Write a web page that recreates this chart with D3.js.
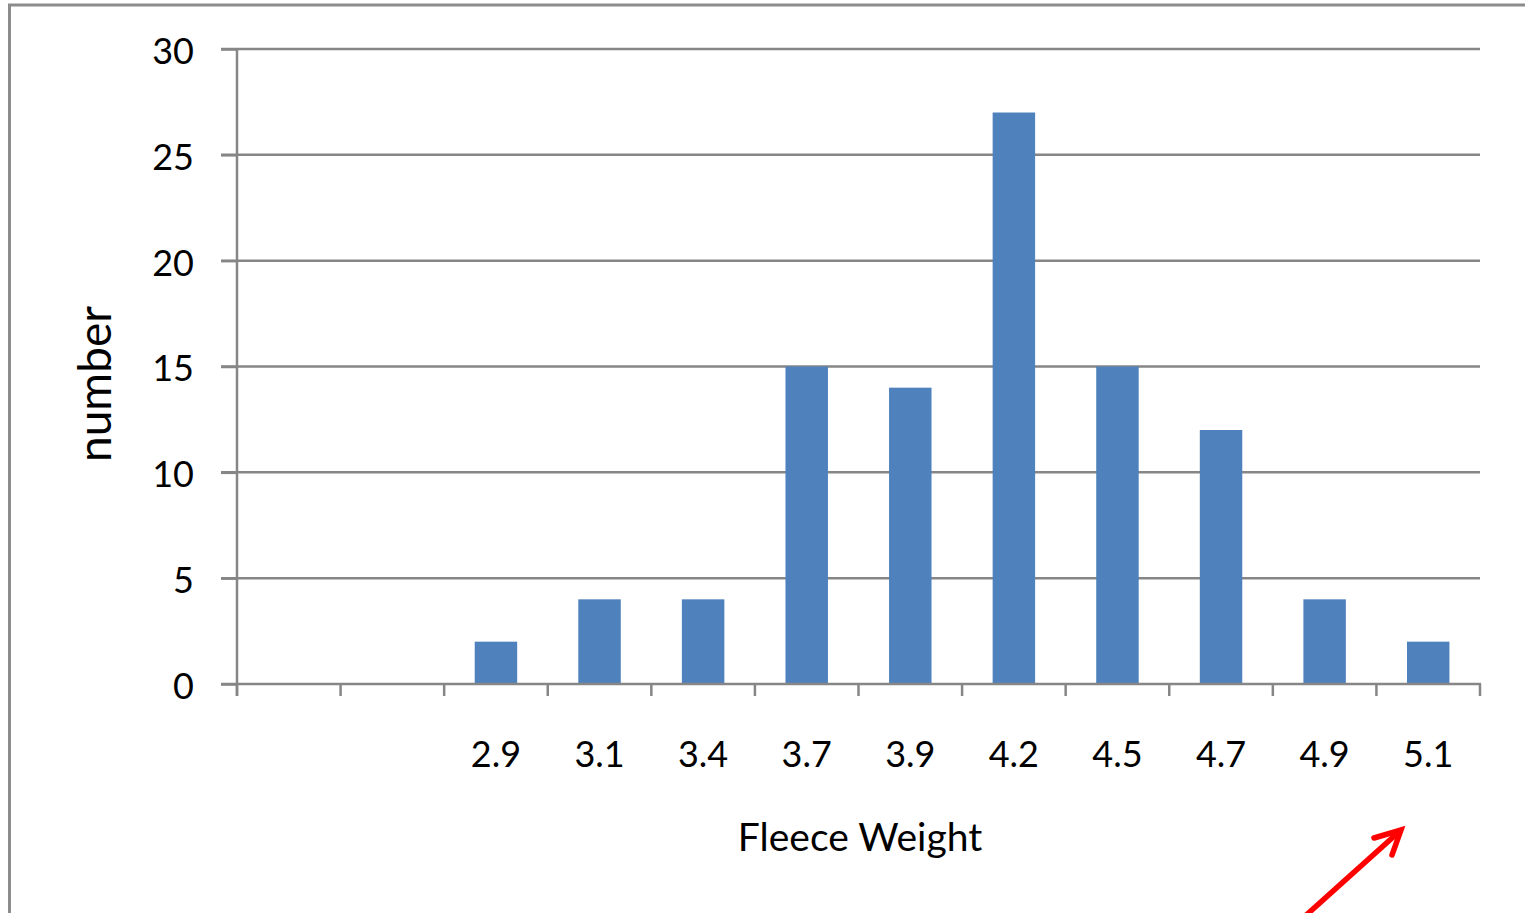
<!DOCTYPE html>
<html><head><meta charset="utf-8">
<script src="https://cdn.jsdelivr.net/npm/d3@7"></script>
<style>html,body{margin:0;padding:0;background:#fff;overflow:hidden}svg{display:block}</style>
</head><body>
<svg id="chart" width="1525" height="913"></svg>
<script>
const categories = ["", "", "2.9", "3.1", "3.4", "3.7", "3.9", "4.2", "4.5", "4.7", "4.9", "5.1"];
const counts = [0, 0, 2, 4, 4, 15, 14, 27, 15, 12, 4, 2];
const yTicks = [0, 5, 10, 15, 20, 25, 30];
const xTitle = "Fleece Weight";
const yTitle = "number";

(function () {
const svg = d3.select("#chart");
const FONT = "Lato, 'Open Sans', sans-serif";
const GRID = "#868686";
const pLeft = 237, pRight = 1480, pTop = 49, pBottom = 684;

// outer border
svg.append("rect").attr("x", 9.5).attr("y", 5).attr("width", 1600).attr("height", 1000)
  .attr("fill", "none").attr("stroke", "#8c8c8c").attr("stroke-width", 3);

const x = d3.scaleBand().domain(d3.range(categories.length)).range([pLeft, pRight]).padding(0);
const y = d3.scaleLinear().domain([0, 30]).range([pBottom, pTop]);

// gridlines
svg.append("g").selectAll("line").data(yTicks.filter(d => d > 0)).join("line")
  .attr("x1", pLeft - 16).attr("x2", pRight).attr("y1", d => y(d)).attr("y2", d => y(d))
  .attr("stroke", GRID).attr("stroke-width", 2.5);

// bars
const bw = x.bandwidth() * 0.41;
svg.append("g").selectAll("rect").data(counts).join("rect")
  .attr("x", (d, i) => x(i) + x.bandwidth() / 2 - bw / 2)
  .attr("width", bw)
  .attr("y", d => y(d))
  .attr("height", d => y(0) - y(d))
  .attr("fill", "#4F81BD");

// y axis
const yAxis = d3.axisLeft(y).tickValues(yTicks).tickSize(16).tickPadding(27);
const gy = svg.append("g").attr("transform", `translate(${pLeft},0)`).call(yAxis);
gy.select(".domain").remove();
gy.selectAll(".tick line").attr("stroke", GRID).attr("stroke-width", 2.5);
gy.selectAll(".tick text").attr("font-family", FONT).attr("font-size", 36).attr("fill", "#000")
  .attr("dy", "0.40em");
svg.append("line").attr("x1", pLeft).attr("x2", pLeft).attr("y1", pTop).attr("y2", pBottom + 12)
  .attr("stroke", GRID).attr("stroke-width", 2.5);

// x axis
const xEdges = d3.range(categories.length + 1).map(i => pLeft + i * x.bandwidth());
svg.append("line").attr("x1", pLeft - 16).attr("x2", pRight + 1).attr("y1", pBottom).attr("y2", pBottom)
  .attr("stroke", GRID).attr("stroke-width", 2.5);
svg.append("g").selectAll("line").data(xEdges).join("line")
  .attr("x1", d => d).attr("x2", d => d).attr("y1", pBottom).attr("y2", pBottom + 12)
  .attr("stroke", GRID).attr("stroke-width", 2.5);
svg.append("g").selectAll("text").data(categories).join("text")
  .attr("x", (d, i) => x(i) + x.bandwidth() / 2).attr("y", 767)
  .attr("text-anchor", "middle").attr("font-family", FONT).attr("font-size", 36).attr("fill", "#000")
  .text(d => d);

// titles
svg.append("text").attr("x", 860).attr("y", 851).attr("text-anchor", "middle")
  .attr("font-family", FONT).attr("font-size", 39).attr("fill", "#000").text(xTitle);
svg.append("text").attr("transform", "translate(111,384) rotate(-90)").attr("text-anchor", "middle")
  .attr("font-family", FONT).attr("font-size", 46).attr("fill", "#000").text(yTitle);

// red arrow annotation
svg.append("path").attr("d", "M1303,918 L1401,830").attr("stroke", "#ff0000").attr("stroke-width", 5.5)
  .attr("fill", "none");
svg.append("path").attr("d", "M1374,838 L1401,830 L1392,855").attr("stroke", "#ff0000").attr("stroke-width", 5.5)
  .attr("fill", "none").attr("stroke-linecap", "round").attr("stroke-linejoin", "miter");
})();
</script>
</body></html>
